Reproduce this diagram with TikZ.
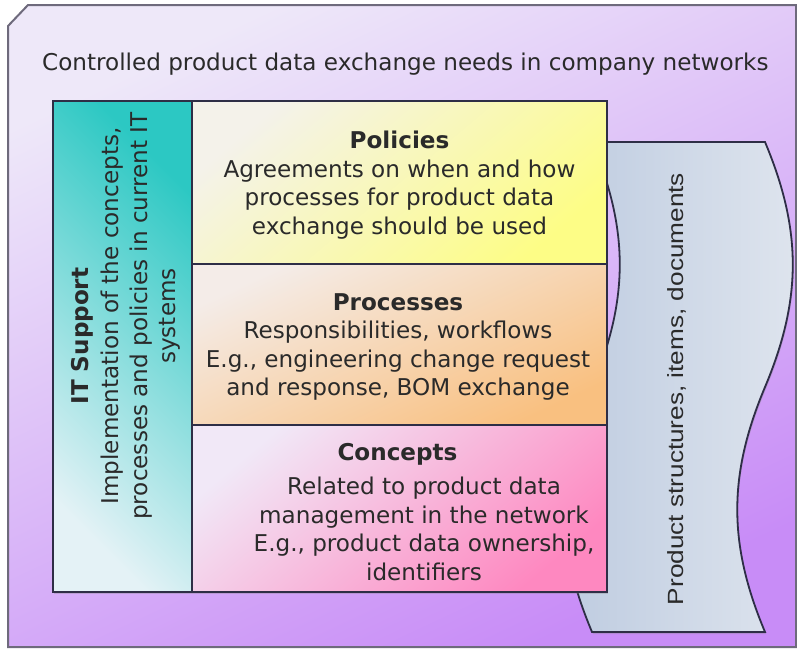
\documentclass[tikz,border=0pt]{standalone}
\usepackage{fontspec}
\setmainfont{DejaVu Sans}
\newfontfamily\arialfont{Liberation Sans}
\usetikzlibrary{positioning}
\usetikzlibrary{shadows}

\definecolor{bglight}{HTML}{EEE8F9}
\definecolor{bgmid}{HTML}{D9B9F6}
\definecolor{bgdark}{HTML}{C88CF7}
\definecolor{frameline}{HTML}{6E6A7C}
\definecolor{boxline}{HTML}{2E2E46}
\definecolor{itlight}{HTML}{E4F2F6}
\definecolor{itdark}{HTML}{2CC8C3}
\definecolor{pollight}{HTML}{F4F2EA}
\definecolor{poldark}{HTML}{FDFD86}
\definecolor{proclight}{HTML}{F4ECE8}
\definecolor{procdark}{HTML}{F9C080}
\definecolor{conlight}{HTML}{F1E8F7}
\definecolor{condark}{HTML}{FE88C0}
\definecolor{wavelight}{HTML}{DFE5EE}
\definecolor{wavedark}{HTML}{BDCBE0}
\definecolor{txt}{HTML}{2A2A2A}

\begin{document}
\begin{tikzpicture}[x=1pt, y=-1pt,
	box/.style={draw=boxline, line width=1.8pt, inner sep=0pt,
		drop shadow={shadow xshift=1pt, shadow yshift=-2pt, opacity=.3}},
	boxtext/.style={align=center, inner sep=0pt, text=txt,
		font=\fontsize{23.1}{28.5}\selectfont}]
	\clip (0,0) rectangle (797,648);

	% purple frame with the cut corner
	\draw[frameline, line width=2pt, top color=bglight, middle color=bgmid, bottom color=bgdark,
		shading angle=25]
		(8,647) -- (8,26) -- (28,5) -- (796,5) -- (796,647) -- cycle;
	\node[boxtext, anchor=base west] (title) at (42,70)
		{Controlled product data exchange needs in company networks};

	% wavy sheet behind the layers
	\draw[draw=boxline, line width=1.8pt, left color=wavedark, right color=wavelight,
		drop shadow={shadow xshift=1pt, shadow yshift=-2pt, opacity=.3}]
		(592,142) -- (765,142)
		.. controls (802,230) and (802,299) .. (765,387)
		.. controls (728,475) and (728,544) .. (765,632)
		-- (592,632)
		.. controls (555,544) and (555,475) .. (592,387)
		.. controls (629,299) and (629,230) .. (592,142) -- cycle;
	\node[rotate=90, text=txt, inner sep=0pt, font=\arialfont\fontsize{22}{26}\selectfont]
		(sheet) at (677,389) {\scalebox{1.19}[1]{Product structures, items, documents}};

	% layers
	\node[box, minimum width=139pt, minimum height=491pt,
		top color=itlight, bottom color=itdark, shading angle=135] (it) at (122.5,346.5) {};
	\node[box, minimum width=415pt, minimum height=163pt,
		top color=pollight, bottom color=poldark, shading angle=40] (policies) at (399.5,182.5) {};
	\node[box, minimum width=415pt, minimum height=161pt,
		top color=proclight, bottom color=procdark, shading angle=25] (processes) at (399.5,344.5) {};
	\node[box, minimum width=415pt, minimum height=167pt,
		top color=conlight, bottom color=condark, shading angle=40] (concepts) at (399.5,508.5) {};

	\node[boxtext, rotate=90] (itname) at (82,336) {\textbf{IT Support}};
	\node[boxtext, rotate=90] (itbody) at (141,316)
		{Implementation of the concepts,\\processes and policies in current IT\\systems};

	\node[boxtext] (poltext) at (399.5,185)
		{\textbf{Policies}\\Agreements on when and how\\processes for product data\\exchange should be used};
	\node[boxtext] (proctext) at (398,347)
		{\textbf{Processes}\\Responsibilities, workflows\\E.g., engineering change request\\and response, BOM exchange};
	\node[boxtext, anchor=base] (conname) at (397.5,460) {\textbf{Concepts}};
	\node[boxtext] (context) at (424,529)
		{Related to product data\\management in the network\\E.g., product data ownership,\\identifiers};
\end{tikzpicture}
\end{document}
